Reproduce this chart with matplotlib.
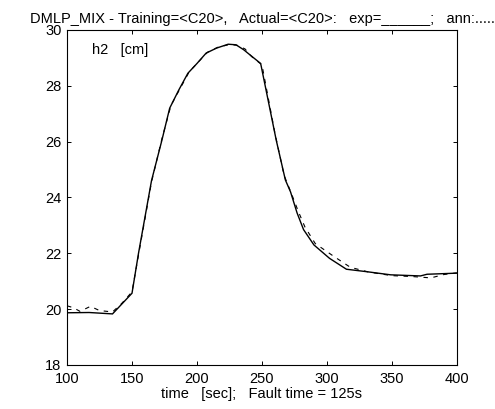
import numpy as np
import matplotlib
matplotlib.use("Agg")
import matplotlib.pyplot as plt

plt.rcParams['font.family'] = ['Liberation Sans', 'DejaVu Sans']

# measured level h2 (solid)
exp_t = [100, 117, 135, 150, 155, 165, 173, 179, 186, 193, 200, 207, 215, 224, 230,
         236, 241, 249, 261, 268, 272, 277, 282, 290, 302, 315, 331, 349, 372, 377, 400]
exp_h = [19.87, 19.88, 19.83, 20.57, 22.0, 24.6, 26.05, 27.2, 27.85, 28.45, 28.8, 29.17,
         29.35, 29.49, 29.47, 29.29, 29.1, 28.8, 26.05, 24.63, 24.2, 23.45, 22.85, 22.3,
         21.82, 21.43, 21.34, 21.23, 21.19, 21.25, 21.29]

# network estimate (dashed)
ann_t = [100, 105, 110, 118, 125, 135, 142, 150, 156, 165, 173, 180, 187, 194, 201, 208,
         216, 225, 231, 237, 242, 250, 260, 267, 273, 278, 283, 291, 305, 318, 332, 350,
         365, 380, 390, 400]
ann_h = [20.12, 20.05, 19.92, 20.1, 19.95, 19.9, 20.2, 20.62, 22.2, 24.55, 26.1, 27.3,
         27.9, 28.5, 28.85, 29.2, 29.38, 29.48, 29.45, 29.32, 29.05, 28.75, 26.3, 24.8,
         24.1, 23.5, 22.95, 22.35, 21.9, 21.5, 21.33, 21.2, 21.17, 21.12, 21.24, 21.3]

x_ticks = [100, 150, 200, 250, 300, 350, 400]
y_ticks = [18, 20, 22, 24, 26, 28, 30]

fig = plt.figure(figsize=(4.95, 4.09), dpi=100)
ax = fig.add_axes([0.1354, 0.1076, 0.7876, 0.8191])

ax.plot(exp_t, exp_h, color='black', lw=1.0, solid_joinstyle='miter')
ax.plot(ann_t, ann_h, color='black', lw=0.8, linestyle=(0, (4, 5)))

ax.set_xlim(100, 400)
ax.set_ylim(18, 30)
ax.set_xticks(x_ticks)
ax.set_yticks(y_ticks)
ax.tick_params(direction='in', length=3, width=0.7, top=True, right=True,
               labelsize=10.5)
ax.tick_params(axis='x', pad=5)
ax.tick_params(axis='y', pad=4)
for s in ax.spines.values():
    s.set_linewidth(0.8)

ax.text(0.064, 0.94, 'h2   [cm]', transform=ax.transAxes, fontsize=10.5,
        ha='left', va='center')

ax.set_title('DMLP_MIX - Training=<C20>,   Actual=<C20>:   exp=______;   ann:.....',
             fontsize=10.5, pad=5)
ax.set_xlabel('time   [sec];   Fault time = 125s', fontsize=10.5, labelpad=1)

fig.savefig('out.png', dpi=100)
